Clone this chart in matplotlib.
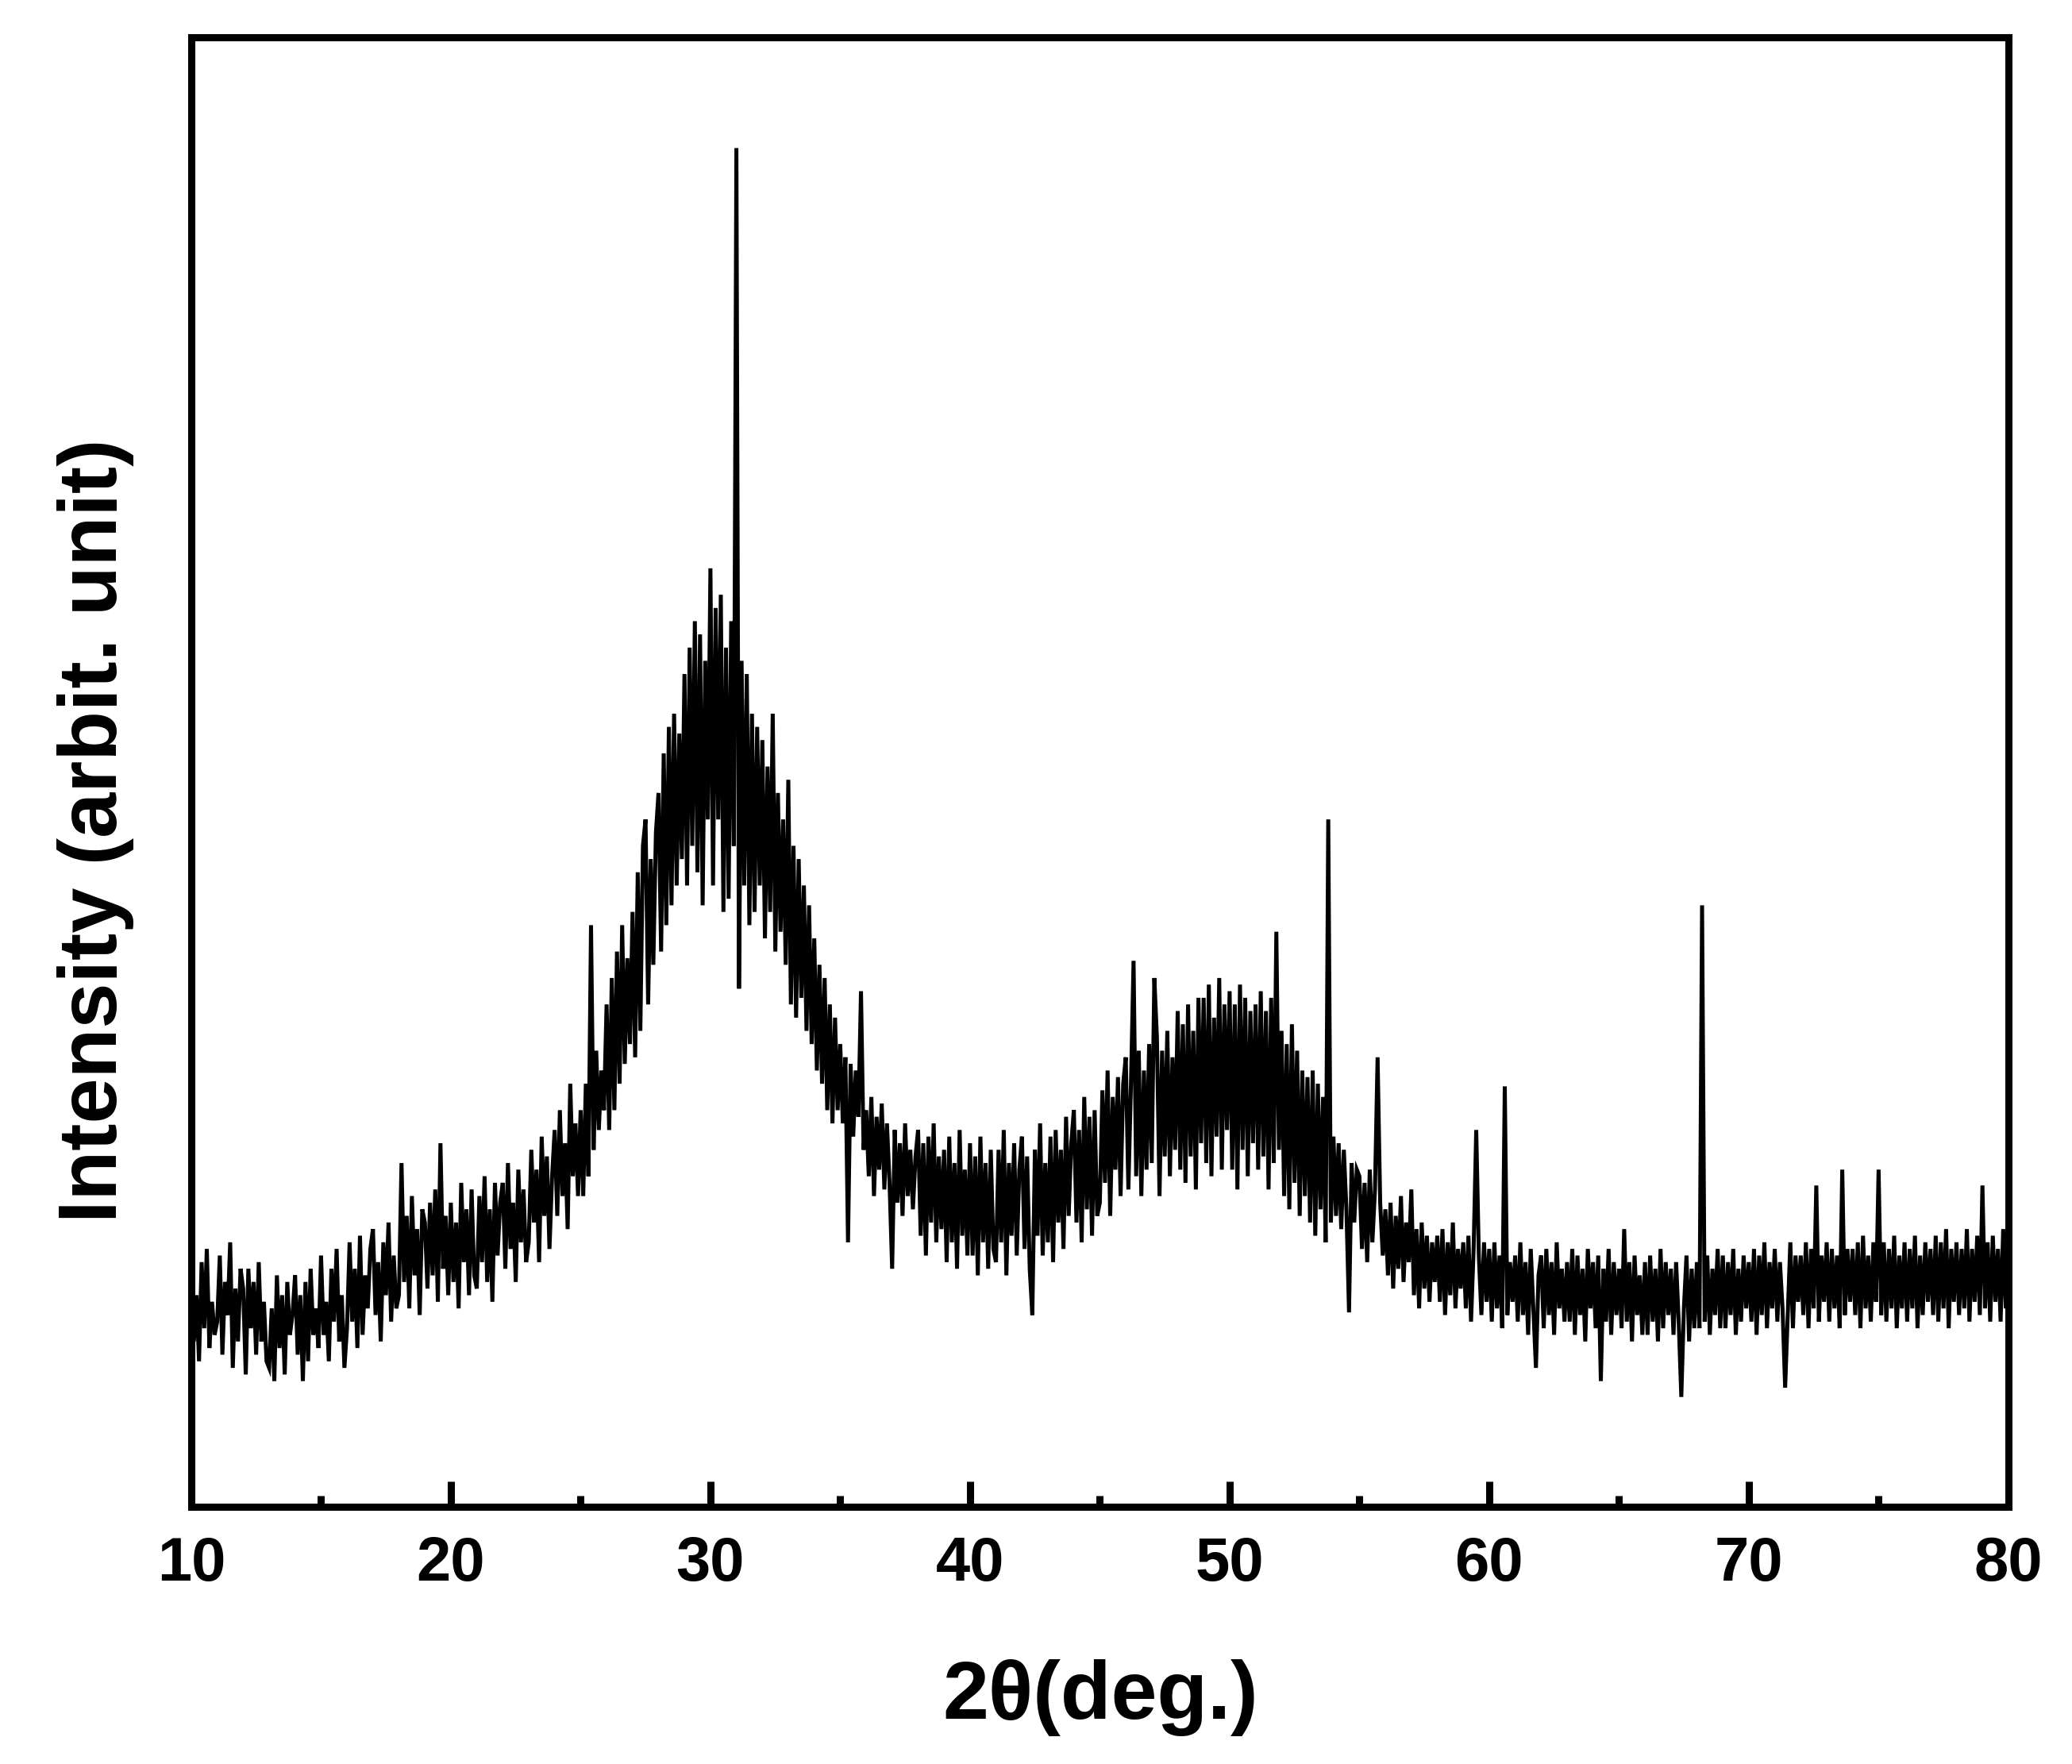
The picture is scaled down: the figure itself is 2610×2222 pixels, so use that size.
import numpy as np
import matplotlib
matplotlib.use("Agg")
import matplotlib.pyplot as plt
from matplotlib.ticker import MultipleLocator

# ------------------------------------------------------------------
# data: XRD scan, 10-80 deg, step 0.1 deg
# ------------------------------------------------------------------
scan_start = 10.0
scan_step = 0.1

intensity_rows = [
    [180, 125, 160, 110, 185, 135, 195, 120, 155, 130],   # 10
    [140, 190, 115, 170, 145, 200, 105, 165, 125, 180],   # 11
    [165, 100, 180, 135, 170, 115, 185, 125, 155, 110],   # 12
    [105, 150, 95, 175, 120, 160, 100, 170, 130, 145],    # 13
    [175, 115, 160, 95, 170, 110, 180, 130, 150, 120],    # 14
    [190, 130, 155, 110, 180, 140, 195, 125, 160, 105],   # 15
    [135, 200, 140, 180, 120, 205, 130, 175, 150, 195],   # 16
    [210, 145, 185, 125, 200, 160, 215, 140, 190, 150],   # 17
    [160, 260, 170, 220, 150, 235, 175, 210, 145, 225],   # 18
    [215, 165, 230, 175, 240, 155, 275, 180, 220, 160],   # 19
    [230, 170, 215, 150, 245, 185, 225, 160, 240, 175],   # 20
    [165, 235, 185, 250, 170, 225, 155, 245, 190, 230],   # 21
    [245, 180, 260, 195, 230, 170, 255, 200, 240, 185],   # 22
    [200, 270, 215, 255, 185, 280, 220, 265, 195, 250],   # 23
    [285, 220, 300, 235, 275, 210, 320, 250, 290, 235],   # 24
    [300, 235, 320, 250, 440, 270, 345, 285, 330, 300],   # 25
    [380, 285, 400, 300, 420, 320, 440, 335, 415, 350],   # 26
    [450, 340, 480, 360, 500, 520, 380, 490, 410, 510],   # 27
    [540, 420, 570, 440, 590, 455, 600, 470, 585, 490],   # 28
    [630, 470, 650, 500, 670, 480, 660, 455, 640, 520],   # 29
    [710, 470, 680, 520, 690, 450, 650, 460, 670, 500],   # 30
    [1028, 392, 640, 470, 630, 440, 600, 450, 590, 470],  # 31
    [580, 430, 560, 450, 600, 420, 540, 435, 520, 410],   # 32
    [550, 380, 500, 370, 490, 385, 470, 360, 455, 350],   # 33
    [430, 330, 410, 320, 400, 300, 380, 290, 370, 300],   # 34
    [350, 290, 340, 200, 335, 280, 330, 295, 390, 270],   # 35
    [300, 250, 310, 235, 295, 255, 305, 240, 290, 245],   # 36
    [180, 285, 230, 275, 220, 290, 235, 270, 225, 265],   # 37
    [285, 205, 275, 190, 280, 215, 290, 200, 265, 210],   # 38
    [270, 185, 280, 200, 260, 180, 285, 205, 255, 190],   # 39
    [275, 190, 265, 175, 280, 200, 260, 180, 270, 195],   # 40
    [185, 270, 200, 285, 175, 260, 205, 275, 190, 255],   # 41
    [280, 195, 265, 180, 145, 270, 205, 290, 190, 260],   # 42
    [200, 280, 185, 285, 215, 270, 195, 295, 220, 275],   # 43
    [300, 215, 285, 200, 310, 225, 295, 205, 300, 220],   # 44
    [230, 315, 245, 330, 220, 310, 255, 325, 235, 320],   # 45
    [340, 240, 320, 413, 250, 345, 235, 330, 255, 350],   # 46
    [260, 400, 355, 235, 345, 265, 360, 250, 340, 270],   # 47
    [375, 255, 365, 245, 380, 265, 360, 240, 385, 275],   # 48
    [385, 260, 395, 250, 370, 280, 400, 255, 380, 285],   # 49
    [390, 255, 380, 240, 395, 270, 385, 250, 375, 275],   # 50
    [380, 255, 390, 265, 375, 240, 385, 260, 435, 270],   # 51
    [360, 235, 350, 225, 365, 245, 345, 220, 330, 235],   # 52
    [325, 215, 330, 205, 320, 225, 310, 200, 520, 215],   # 53
    [280, 220, 275, 210, 270, 225, 147, 260, 215, 255],   # 54
    [250, 195, 245, 185, 255, 200, 240, 340, 230, 190],   # 55
    [225, 175, 230, 165, 220, 180, 235, 170, 215, 185],   # 56
    [240, 160, 210, 150, 215, 165, 205, 155, 200, 170],   # 57
    [205, 155, 210, 145, 200, 160, 215, 150, 195, 165],   # 58
    [200, 150, 205, 140, 195, 285, 190, 145, 200, 155],   # 59
    [195, 140, 200, 150, 190, 135, 318, 145, 185, 155],   # 60
    [190, 140, 200, 145, 185, 130, 195, 150, 105, 175],   # 61
    [190, 135, 195, 145, 185, 130, 200, 150, 180, 140],   # 62
    [185, 140, 195, 130, 190, 145, 180, 125, 195, 150],   # 63
    [185, 135, 190, 95, 180, 140, 195, 130, 185, 145],    # 64
    [180, 135, 210, 140, 185, 125, 190, 145, 175, 130],   # 65
    [185, 130, 190, 140, 180, 125, 195, 135, 185, 145],   # 66
    [180, 130, 185, 140, 83, 150, 190, 125, 180, 135],    # 67
    [185, 135, 455, 140, 190, 130, 180, 145, 195, 135],   # 68
    [190, 135, 185, 145, 195, 130, 180, 140, 190, 150],   # 69
    [185, 140, 195, 130, 190, 145, 200, 135, 185, 150],   # 70
    [195, 140, 185, 150, 90, 145, 200, 135, 190, 155],    # 71
    [190, 145, 200, 135, 195, 150, 243, 140, 190, 155],   # 72
    [200, 140, 195, 150, 190, 135, 255, 145, 195, 155],   # 73
    [195, 145, 200, 135, 205, 150, 190, 140, 200, 155],   # 74
    [255, 145, 200, 140, 195, 150, 205, 135, 190, 150],   # 75
    [200, 140, 195, 150, 205, 135, 190, 145, 200, 155],   # 76
    [195, 145, 205, 140, 200, 150, 210, 135, 195, 155],   # 77
    [200, 145, 195, 150, 210, 140, 195, 155, 205, 145],   # 78
    [243, 150, 200, 140, 205, 155, 195, 140, 210, 150],   # 79
    [170],                                                # 80
]

intensity = np.array([v for row in intensity_rows for v in row], dtype=float)
two_theta = np.round(scan_start + scan_step * np.arange(len(intensity)), 1)

x_ticks = [10, 20, 30, 40, 50, 60, 70, 80]

# ------------------------------------------------------------------
# plot
# ------------------------------------------------------------------
plt.rcParams['font.family'] = ['Liberation Sans', 'DejaVu Sans']
plt.rcParams['font.weight'] = 'bold'

fig = plt.figure(figsize=(26.1, 22.22), dpi=100)
ax = fig.add_axes([0.0923, 0.1459, 0.9693 - 0.0923, 0.979 - 0.1459])

ax.plot(two_theta, intensity, color='black', linewidth=3.6,
        solid_joinstyle='miter')

ax.set_xlim(10, 80)
ax.set_ylim(0, 1112)
ax.set_xticks(x_ticks)
ax.xaxis.set_minor_locator(MultipleLocator(5))
ax.set_yticks([])

for s in ax.spines.values():
    s.set_linewidth(6.5)

ax.tick_params(axis='x', which='major', direction='in', length=23, width=6.5,
               pad=26, labelsize=56)
ax.tick_params(axis='x', which='minor', direction='in', length=10, width=6.5)
for lab in ax.get_xticklabels():
    lab.set_fontweight('bold')

fig.text(0.531, 0.0374, '2θ(deg.)', fontsize=75, fontweight='bold',
         ha='center', va='center')
fig.text(0.046, 0.529, 'Intensity (arbit. unit)', fontsize=74, fontweight='bold',
         ha='center', va='center', rotation=90)

fig.savefig('out.png', dpi=100)
